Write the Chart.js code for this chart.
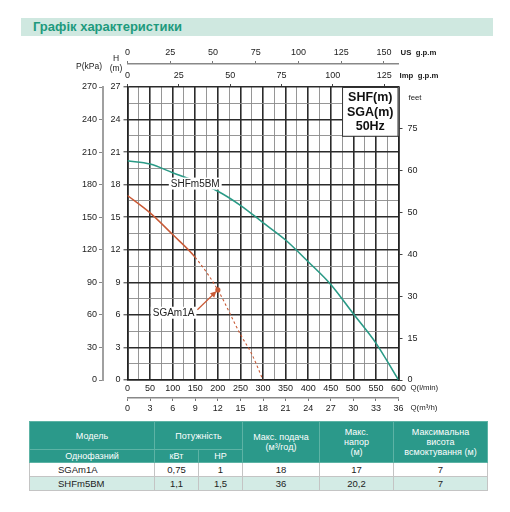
<!DOCTYPE html>
<html lang="uk">
<head>
<meta charset="utf-8">
<title>Графік характеристики</title>
<script src="https://cdn.jsdelivr.net/npm/chart.js@4.4.1/dist/chart.umd.min.js"></script>
<style>
  html, body { margin: 0; padding: 0; background: #fff; }
  body { width: 510px; height: 512px; position: relative; overflow: hidden;
         font-family: "Liberation Sans", Arial, sans-serif; }
  .title-bar { position: absolute; left: 21px; top: 18px; width: 472px; height: 18px; background: #cfe8e0; }
  .title-bar span { position: absolute; left: 12px; top: 1px; font-size: 13px; line-height: 16px;
                    font-weight: bold; color: #1d9a7d; }
  #wrap { position: absolute; left: 0; top: 42px; width: 510px; height: 374px; }
  table.spec { position: absolute; left: 29px; top: 421px; width: 458px; border-collapse: collapse;
               table-layout: fixed; font-size: 9px; }
  table.spec th { background: #2b998a; color: #fff; font-weight: normal; border: 1px solid #5db3a5;
                  padding: 0; line-height: 10px; text-align: center; }
  table.spec td { border: 1px solid #c4c4c4; padding: 0; font-size: 9.5px; color: #222;
                  text-align: center; line-height: 12px; }
  table.spec td.model { text-align: left; padding-left: 28px; }
  table.spec tr.alt td { background: #d3ebe5; }
</style>
</head>
<body>

<div class="title-bar"><span>Графік характеристики</span></div>
<div id="wrap"><canvas id="curve" width="510" height="374"></canvas></div>
<table class="spec" id="spec">
  <colgroup>
    <col style="width:125px"><col style="width:44px"><col style="width:44px">
    <col style="width:77px"><col style="width:74px"><col style="width:94px">
  </colgroup>
  <thead>
    <tr style="height:28px">
      <th>Модель</th>
      <th colspan="2">Потужність</th>
      <th rowspan="2">Макс. подача<br>(м³/год)</th>
      <th rowspan="2">Макс.<br>напор<br>(м)</th>
      <th rowspan="2">Максимальна<br>висота<br>всмоктування (м)</th>
    </tr>
    <tr style="height:13px">
      <th>Однофазний</th><th>кВт</th><th>HP</th>
    </tr>
  </thead>
  <tbody></tbody>
</table>

<script>
// --- дані кривих (Q в л/хв, H в м) ---
const flowSHF = [0, 50, 100, 150, 200, 250, 300, 350, 400, 450, 500, 550, 600];
const headSHF = [20.2, 19.9, 19.1, 18.3, 17.4, 16.1, 14.5, 12.9, 10.9, 8.8, 6.1, 3.4, 0];

const flowSGA = [0, 50, 100, 150, 200, 250, 275, 300];
const headSGA = [17.0, 15.4, 13.4, 11.3, 8.3, 4.2, 2.4, 0];
const SGA_SOLID_UNTIL = 150;   // далі крива пунктиром
const SGA_MARK_INDEX = 4;      // точка зі стрілкою

// права шкала (feet) — мітки рівномірно, як на оригіналі
const feetTicks = ['0', '15', '30', '40', '50', '60', '75'];

const LMIN_PER_USGPM = 3.78541;
const LMIN_PER_IMPGPM = 4.54609;

// --- таблиця ---
const models  = ['SGAm1A', 'SHFm5BM'];
const powerKw = ['0,75', '1,1'];
const powerHp = ['1', '1,5'];
const maxFlow = ['18', '36'];
const maxHead = ['17', '20,2'];
const suction = ['7', '7'];

const TEAL = '#2a9a86';
const RUST = '#c95a36';
const FONT = '"Liberation Sans", Arial, sans-serif';

(function fillTable() {
  const tbody = document.querySelector('#spec tbody');
  models.forEach((m, i) => {
    const tr = document.createElement('tr');
    tr.style.height = '14px';
    if (i % 2) tr.className = 'alt';
    [m, powerKw[i], powerHp[i], maxFlow[i], maxHead[i], suction[i]].forEach((v, j) => {
      const td = document.createElement('td');
      td.textContent = v;
      if (j === 0) td.className = 'model';
      tr.appendChild(td);
    });
    tbody.appendChild(tr);
  });
})();

const tickFont = { family: FONT, size: 9 };
const isMajorQ = v => Math.round(v / 25) % 2 === 0;
const isMajorH = v => Math.round(v / 1.5) % 2 === 0;

function fixWidth(w)  { return s => { s.width = w; }; }
function fixHeight(h) { return s => { s.height = h; }; }

const decorations = {
  id: 'decorations',
  afterDatasetsDraw(chart) {
    const { ctx, chartArea: a, scales } = chart;
    const x = scales.x, y = scales.y;
    ctx.save();

    // підписи кривих на білому фоні
    function tag(text, q, h) {
      ctx.font = '10px ' + FONT;
      const w = ctx.measureText(text).width;
      const px = x.getPixelForValue(q), py = y.getPixelForValue(h);
      ctx.fillStyle = '#fff';
      ctx.fillRect(px - w / 2 - 2, py - 6, w + 4, 12);
      ctx.fillStyle = '#222';
      ctx.textAlign = 'center';
      ctx.textBaseline = 'middle';
      ctx.fillText(text, px, py + 0.5);
      return { left: px - w / 2, right: px + w / 2, top: py - 6 };
    }
    tag('SHFm5BM', 150, 18.1);
    const lab = tag('SGAm1A', 102, 6.2);

    // стрілка до точки на кривій SGAm1A
    const tx = x.getPixelForValue(flowSGA[SGA_MARK_INDEX]);
    const ty = y.getPixelForValue(headSGA[SGA_MARK_INDEX]);
    const sx = lab.right + 3, sy = lab.top + 3;
    const ang = Math.atan2(ty - sy, tx - sx);
    ctx.strokeStyle = RUST;
    ctx.fillStyle = RUST;
    ctx.lineWidth = 1.2;
    ctx.beginPath();
    ctx.moveTo(sx, sy);
    ctx.lineTo(tx - 4 * Math.cos(ang), ty - 4 * Math.sin(ang));
    ctx.stroke();
    ctx.beginPath();
    ctx.moveTo(tx - 2 * Math.cos(ang), ty - 2 * Math.sin(ang));
    ctx.lineTo(tx - 8 * Math.cos(ang) + 3 * Math.sin(ang), ty - 8 * Math.sin(ang) - 3 * Math.cos(ang));
    ctx.lineTo(tx - 8 * Math.cos(ang) - 3 * Math.sin(ang), ty - 8 * Math.sin(ang) + 3 * Math.cos(ang));
    ctx.closePath();
    ctx.fill();

    // рамка SHF(m) / SGA(m) / 50Hz
    const bx = x.getPixelForValue(475), by = y.getPixelForValue(22.5);
    ctx.fillStyle = '#fff';
    ctx.fillRect(bx, a.top, a.right - bx, by - a.top);
    ctx.strokeStyle = '#333';
    ctx.lineWidth = 1;
    ctx.strokeRect(bx + 0.5, a.top + 0.5, a.right - bx - 1, by - a.top);
    ctx.fillStyle = '#111';
    ctx.font = 'bold 12.5px ' + FONT;
    ctx.textAlign = 'center';
    ctx.textBaseline = 'middle';
    const cx = (bx + a.right) / 2;
    ['SHF(m)', 'SGA(m)', '50Hz'].forEach((t, i) => ctx.fillText(t, cx, a.top + 11 + i * 14.4));

    // назви осей
    ctx.fillStyle = '#222';
    ctx.font = '8.5px ' + FONT;
    ctx.textAlign = 'left';
    ctx.fillText('P(kPa)', 76, a.top - 20);
    ctx.textAlign = 'center';
    ctx.fillText('H', 116, a.top - 28);
    ctx.fillText('(m)', 116, a.top - 18.5);
    ctx.textAlign = 'left';
    ctx.font = 'bold 7.8px ' + FONT;
    ctx.fillText('US  g.p.m', a.right + 2, a.top - 34);
    ctx.fillText('Imp  g.p.m', a.right + 1, a.top - 11);
    ctx.font = '7.8px ' + FONT;
    ctx.fillText('feet', a.right + 10, a.top + 11);
    ctx.fillText('Q(l/min)', a.right + 12, a.bottom + 8);
    ctx.fillText('Q(m³/h)', a.right + 12, a.bottom + 28);
    ctx.restore();
  }
};

new Chart(document.getElementById('curve'), {
  type: 'line',
  data: {
    datasets: [
      {
        label: 'SHFm5BM',
        data: flowSHF.map((q, i) => ({ x: q, y: headSHF[i] })),
        borderColor: TEAL,
        borderWidth: 1.6,
        pointRadius: 0,
        cubicInterpolationMode: 'monotone',
        xAxisID: 'x', yAxisID: 'y',
      },
      {
        label: 'SGAm1A',
        data: flowSGA.map((q, i) => ({ x: q, y: headSGA[i] })),
        borderColor: RUST,
        borderWidth: 1.5,
        pointRadius: ctx => ctx.dataIndex === SGA_MARK_INDEX ? 2.6 : 0,
        pointBackgroundColor: RUST,
        pointBorderWidth: 0,
        cubicInterpolationMode: 'monotone',
        segment: {
          borderDash: ctx => ctx.p0.parsed.x >= SGA_SOLID_UNTIL ? [2.5, 2.5] : undefined,
          borderWidth: ctx => ctx.p0.parsed.x >= SGA_SOLID_UNTIL ? 1.1 : undefined,
        },
        xAxisID: 'x', yAxisID: 'y',
      },
    ],
  },
  options: {
    responsive: false,
    animation: false,
    layout: { padding: 0 },
    plugins: { legend: { display: false }, tooltip: { enabled: false } },
    scales: {
      x: {
        type: 'linear', position: 'bottom', weight: 0, min: 0, max: 600,
        afterFit: fixHeight(18),
        grid: {
          color: c => isMajorQ(c.tick.value) ? '#2b2b2b' : '#8a8a8a',
          lineWidth: c => isMajorQ(c.tick.value) ? 1.6 : 0.9,
          drawTicks: false,
        },
        border: { display: true, color: '#222', width: 1.6 },
        ticks: {
          stepSize: 25, autoSkip: false, maxRotation: 0, padding: 3,
          font: tickFont, color: '#222',
          callback: v => isMajorQ(v) ? v : '',
        },
      },
      xM3: {
        type: 'linear', position: 'bottom', weight: 1, min: 0, max: 36,
        afterFit: fixHeight(18),
        grid: { drawOnChartArea: false, tickLength: 3, tickColor: '#777', tickWidth: 1 },
        border: { display: true, color: '#888', width: 1.5 },
        ticks: { stepSize: 3, autoSkip: false, maxRotation: 0, padding: 2, font: tickFont, color: '#222' },
      },
      xImp: {
        type: 'linear', position: 'top', weight: 0, min: 0, max: 600 / LMIN_PER_IMPGPM,
        afterFit: fixHeight(23),
        grid: { drawOnChartArea: false, tickLength: 3, tickColor: '#444', tickWidth: 1 },
        border: { display: false },
        ticks: { stepSize: 25, includeBounds: false, autoSkip: false, maxRotation: 0, padding: 3,
                 font: tickFont, color: '#222' },
      },
      xUS: {
        type: 'linear', position: 'top', weight: 1, min: 0, max: 600 / LMIN_PER_USGPM,
        afterFit: fixHeight(22),
        grid: { drawOnChartArea: false, tickLength: 3, tickColor: '#777', tickWidth: 1 },
        border: { display: true, color: '#888', width: 1.5 },
        ticks: { stepSize: 25, includeBounds: false, autoSkip: false, maxRotation: 0, padding: 3,
                 font: tickFont, color: '#222' },
      },
      y: {
        type: 'linear', position: 'left', weight: 0, min: 0, max: 27,
        afterFit: fixWidth(24.5),
        grid: {
          color: c => isMajorH(c.tick.value) ? '#2b2b2b' : '#8a8a8a',
          lineWidth: c => isMajorH(c.tick.value) ? 1.6 : 0.9,
          tickLength: 4,
          tickColor: c => isMajorH(c.tick.value) ? '#333' : 'rgba(0,0,0,0)',
          tickWidth: 1,
        },
        border: { display: true, color: '#222', width: 1.6 },
        ticks: {
          stepSize: 1.5, autoSkip: false, padding: 3, font: tickFont, color: '#222',
          callback: v => isMajorH(v) ? v : '',
        },
      },
      yP: {
        type: 'linear', position: 'left', weight: 1, min: 0, max: 270,
        afterFit: fixWidth(103),
        grid: { drawOnChartArea: false, tickLength: 4, tickColor: '#888', tickWidth: 1 },
        border: { display: true, color: '#a0a0a0', width: 2 },
        ticks: { stepSize: 30, autoSkip: false, padding: 2, font: tickFont, color: '#222' },
      },
      yR: {
        type: 'linear', position: 'right', weight: 0, min: 0, max: 7,
        afterFit: fixWidth(111.5),
        grid: {
          drawOnChartArea: false, tickLength: 4, tickWidth: 1,
          tickColor: c => c.tick.value < 7 ? '#444' : 'rgba(0,0,0,0)',
        },
        border: { display: true, color: '#222', width: 1.6 },
        ticks: {
          stepSize: 1, autoSkip: false, padding: 5, font: tickFont, color: '#222',
          callback: v => feetTicks[v] ?? '',
        },
      },
    },
  },
  plugins: [decorations],
});
</script>
</body>
</html>
